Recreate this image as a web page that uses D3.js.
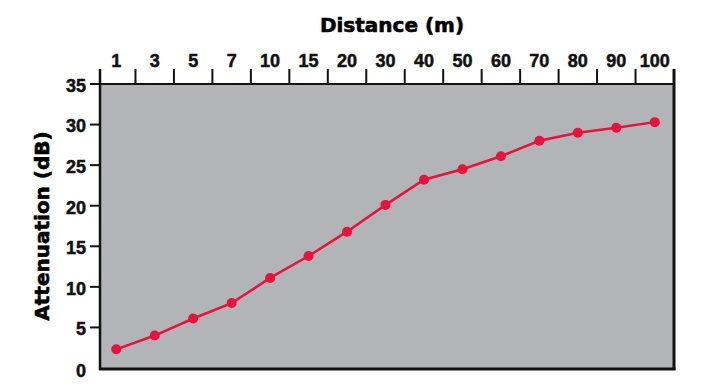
<!DOCTYPE html>
<html>
<head>
<meta charset="utf-8">
<script src="https://cdn.jsdelivr.net/npm/d3@7"></script>
<style>
  body { margin: 0; background: #fff; }
  svg { display: block; }
</style>
</head>
<body>
<svg id="chart"></svg>
<script>
// data
const distances = ['1', '3', '5', '7', '10', '15', '20', '30', '40', '50', '60', '70', '80', '90', '100'];
const attenuation = [2.3, 4.0, 6.1, 8.0, 11.1, 13.8, 16.8, 20.1, 23.2, 24.5, 26.1, 28.0, 29.0, 29.6, 30.3];
const yTicks = [0, 5, 10, 15, 20, 25, 30, 35];

const width = 721;
const height = 389;
const plot = { left: 100, right: 674, top: 84, bottom: 368 };

const svg = d3.select('#chart')
  .attr('width', width)
  .attr('height', height);

const x = d3.scaleBand()
  .domain(distances)
  .range([97, plot.right]);

const y = d3.scaleLinear()
  .domain([0, 35])
  .range([plot.bottom, plot.top]);

// plot background
svg.append('rect')
  .attr('x', plot.left)
  .attr('y', plot.top)
  .attr('width', plot.right - plot.left)
  .attr('height', plot.bottom - plot.top + 1)
  .style('fill', '#b3b4b8');

// top ticks sit between the categories
const edges = distances.map(d => Math.max(plot.left, x(d))).concat([plot.right]);
svg.selectAll('line.xtick')
  .data(edges)
  .enter()
  .append('line')
  .attr('class', 'xtick')
  .attr('x1', d => d)
  .attr('x2', d => d)
  .attr('y1', 69)
  .attr('y2', plot.top)
  .style('stroke', '#111')
  .style('stroke-width', 2);

svg.selectAll('text.xlab')
  .data(distances)
  .enter()
  .append('text')
  .attr('class', 'xlab')
  .attr('x', d => x(d) + x.bandwidth() / 2)
  .attr('y', 67)
  .attr('text-anchor', 'middle')
  .style('font-family', '"Liberation Sans", Arial, sans-serif')
  .style('font-weight', 'bold')
  .style('font-size', '18px')
  .style('fill', '#111')
  .style('stroke', '#111')
  .style('stroke-width', 0.5)
  .text(d => d);

// left ticks
svg.selectAll('line.ytick')
  .data(yTicks.filter(d => d > 0))
  .enter()
  .append('line')
  .attr('class', 'ytick')
  .attr('x1', 90)
  .attr('x2', plot.left)
  .attr('y1', d => y(d))
  .attr('y2', d => y(d))
  .style('stroke', '#111')
  .style('stroke-width', 2);

svg.selectAll('text.ylab')
  .data(yTicks)
  .enter()
  .append('text')
  .attr('class', 'ylab')
  .attr('x', 86)
  .attr('y', d => y(d) + (d === 0 ? 3 : 1.5))
  .attr('dy', '0.35em')
  .attr('text-anchor', 'end')
  .style('font-family', '"Liberation Sans", Arial, sans-serif')
  .style('font-weight', 'bold')
  .style('font-size', '18px')
  .style('fill', '#111')
  .style('stroke', '#111')
  .style('stroke-width', 0.5)
  .text(d => d);

// frame
svg.append('line')
  .attr('x1', plot.left).attr('x2', plot.right)
  .attr('y1', plot.top).attr('y2', plot.top)
  .style('stroke', '#111').style('stroke-width', 2);
svg.append('line')
  .attr('x1', plot.left).attr('x2', plot.left)
  .attr('y1', 69).attr('y2', plot.bottom + 2)
  .style('stroke', '#111').style('stroke-width', 2.5);
svg.append('line')
  .attr('x1', plot.right).attr('x2', plot.right)
  .attr('y1', 69).attr('y2', plot.bottom + 2)
  .style('stroke', '#111').style('stroke-width', 3);
svg.append('line')
  .attr('x1', plot.left - 1).attr('x2', plot.right + 1.5)
  .attr('y1', plot.bottom + 1).attr('y2', plot.bottom + 1)
  .style('stroke', '#111').style('stroke-width', 3);

// series
const points = distances.map((d, i) => ({ d, v: attenuation[i] }));
const line = d3.line()
  .x(p => x(p.d) + x.bandwidth() / 2)
  .y(p => y(p.v));

svg.append('path')
  .attr('d', line(points))
  .style('fill', 'none')
  .style('stroke', '#e8123a')
  .style('stroke-width', 2.5);

svg.selectAll('circle')
  .data(points)
  .enter()
  .append('circle')
  .attr('cx', p => x(p.d) + x.bandwidth() / 2)
  .attr('cy', p => y(p.v))
  .attr('r', 5)
  .style('fill', '#e8123a');

// titles
svg.append('text')
  .attr('x', (plot.left + plot.right) / 2 + 5)
  .attr('y', 32)
  .attr('text-anchor', 'middle')
  .style('font-family', '"DejaVu Sans", sans-serif')
  .style('font-weight', 'bold')
  .style('font-size', '20px')
  .style('fill', '#000')
  .style('stroke', '#000')
  .style('stroke-width', 0.6)
  .text('Distance (m)');

svg.append('text')
  .attr('transform', 'translate(49,226) rotate(-90)')
  .attr('text-anchor', 'middle')
  .style('font-family', '"DejaVu Sans", sans-serif')
  .style('font-weight', 'bold')
  .style('font-size', '20px')
  .style('fill', '#000')
  .style('stroke', '#000')
  .style('stroke-width', 0.6)
  .text('Attenuation (dB)');
</script>
</body>
</html>
